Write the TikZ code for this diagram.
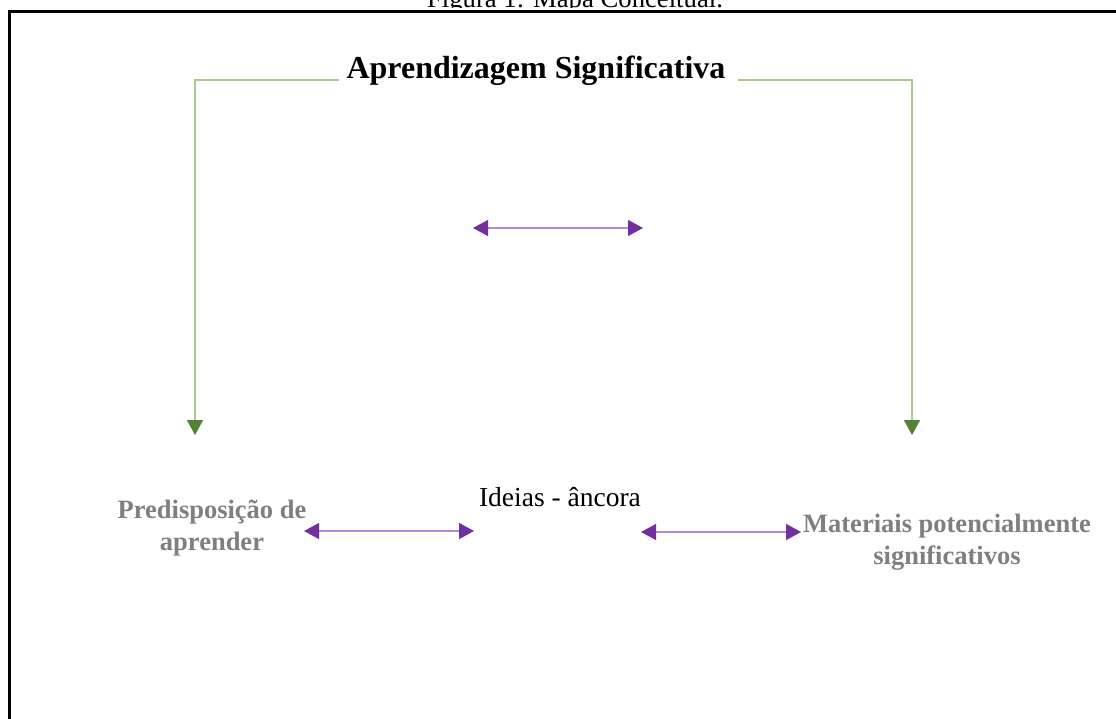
\documentclass[tikz,border=0pt]{standalone}
\usepackage{fontspec}
\setmainfont{Liberation Serif}
\usetikzlibrary{arrows.meta}

\definecolor{verdeClaro}{HTML}{A9C98F}
\definecolor{verdeEsc}{HTML}{548235}
\definecolor{roxoClaro}{HTML}{B08BD6}
\definecolor{roxoEsc}{HTML}{7030A0}
\definecolor{cinza}{HTML}{7F7F7F}

\tikzset{every picture/.style={line width=0.75pt}}
\tikzset{
  setaVerde/.style={draw=verdeClaro, line width=1.5pt,
    -{Triangle[length=15pt,width=16pt,color=verdeEsc]}},
  setaRoxa/.style={draw=roxoClaro, line width=1.3pt,
    {Triangle[length=15pt,width=16pt,color=roxoEsc]}-{Triangle[length=15pt,width=16pt,color=roxoEsc]}},
  conceito/.style={text=cinza, font=\fontsize{26.5}{32}\selectfont\bfseries, align=center, inner sep=0pt}
}

\begin{document}
\begin{tikzpicture}[x=1pt,y=1pt,yscale=-1,xscale=1]
\useasboundingbox (0,0) rectangle (1116,718);

%Shape: Frame
\draw [line width=2.6pt]  (9.5,730) -- (9.5,11.7) -- (1130,11.7) ;

% Caption (cut at the top)
\begin{scope}
\clip (0,0) rectangle (1116,7.5);
\node [anchor=base, inner sep=0pt, font=\fontsize{26.7}{32}\selectfont] (legenda) at (575,7) {Figura 1: Mapa Conceitual.};
\end{scope}

% Text Node
\node [anchor=base, inner sep=0pt, font=\fontsize{32}{38}\selectfont\bfseries] (titulo) at (536,78) {Aprendizagem Significativa};
% Text Node
\node [anchor=base, inner sep=0pt, font=\fontsize{27.5}{33}\selectfont] (ideias) at (560,506) {Ideias - âncora};
% Text Node
\node [conceito, anchor=north] (pred) at (212,500) {Predisposição de\\aprender};
% Text Node
\node [conceito, anchor=north] (mat) at (947,514) {Materiais potencialmente\\significativos};

% arrow ends
\coordinate (fimEsq) at (195,435);
\coordinate (fimDir) at (912,435);
\coordinate (r1) at (473,228);
\coordinate (r2) at (643,228);
\coordinate (r3) at (304,531);
\coordinate (r4) at (474,531);
\coordinate (r5) at (641,532);
\coordinate (r6) at (801,532);

%Connectors
\draw [setaVerde]  ([xshift=-7pt,yshift=2pt]titulo.base west) -| (fimEsq) ;
\draw [setaVerde]  ([xshift=12pt,yshift=2pt]titulo.base east) -| (fimDir) ;

\draw [setaRoxa]  (r1) -- (r2) ;
\draw [setaRoxa]  (r3) -- (r4) ;
\draw [setaRoxa]  (r5) -- (r6) ;

\end{tikzpicture}
\end{document}
